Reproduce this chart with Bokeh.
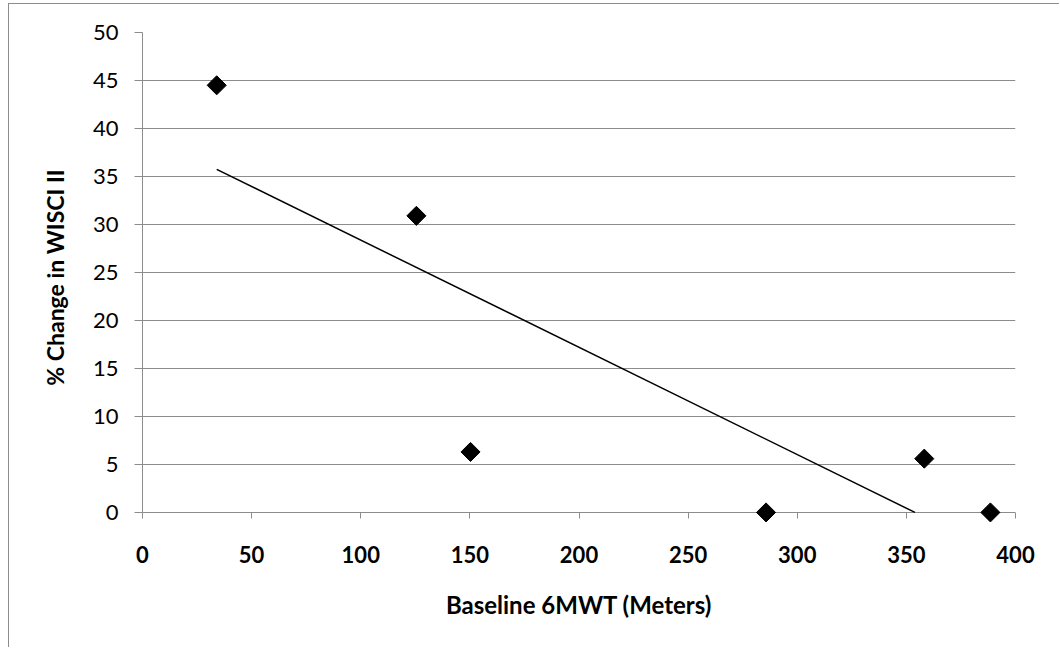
import numpy as np
from bokeh.plotting import figure
from bokeh.models import Range1d, FixedTicker, ColumnDataSource
from bokeh.embed import file_html
from bokeh.resources import INLINE

baseline_6mwt = [34, 125.5, 150.3, 285.7, 358.2, 388.5]
pct_change_wisci = [44.5, 30.9, 6.3, 0.0, 5.6, 0.0]
x_ticks = [0, 50, 100, 150, 200, 250, 300, 350, 400]
y_ticks = [0, 5, 10, 15, 20, 25, 30, 35, 40, 45, 50]

# linear trendline (least squares) over the data range, stopped at the 0 floor
slope, intercept = np.polyfit(baseline_6mwt, pct_change_wisci, 1)
tx = np.array([min(baseline_6mwt), max(baseline_6mwt)], dtype=float)
ty = slope * tx + intercept
if ty[-1] < 0:
    tx[-1] = -intercept / slope
    ty[-1] = 0.0

W, H = 1051, 644
Y_PAD = 1.05  # room below 0 so markers sitting on 0 are not clipped
PAD_PX = 10
p = figure(width=W, height=H, output_backend="svg", toolbar_location=None,
           x_range=Range1d(0, 400), y_range=Range1d(-Y_PAD, 50),
           min_border_left=133, min_border_right=45,
           min_border_top=28, min_border_bottom=126)
p.styles = {"margin-left": "8px", "margin-top": "3px",
            "border-left": "1px solid #8c8c8c", "border-top": "1px solid #8c8c8c"}
p.outline_line_color = None
p.background_fill_color = "white"
p.border_fill_color = "white"

FONT = "Lato"
GRID = "#8c8c8c"

p.xgrid.grid_line_color = None
p.ygrid.grid_line_color = GRID
p.ygrid.grid_line_width = 1
p.ygrid.ticker = FixedTicker(ticks=y_ticks)

xa = p.xaxis[0]
xa.ticker = FixedTicker(ticks=x_ticks)
xa.axis_line_color = None
xa.major_tick_line_color = GRID
xa.major_tick_in = PAD_PX
xa.major_tick_out = 6 - PAD_PX
xa.minor_tick_line_color = None
xa.major_label_text_font = FONT
xa.major_label_text_font_style = "bold"
xa.major_label_text_font_size = "22px"
xa.major_label_text_color = "black"
xa.major_label_standoff = 23
xa.axis_label = "Baseline 6MWT (Meters)"
xa.axis_label_text_font = FONT
xa.axis_label_text_font_style = "bold"
xa.axis_label_text_font_size = "24px"
xa.axis_label_text_color = "black"
xa.axis_label_standoff = 24

ya = p.yaxis[0]
ya.bounds = (0, 50)
ya.ticker = FixedTicker(ticks=y_ticks)
ya.axis_line_color = GRID
ya.major_tick_line_color = GRID
ya.major_tick_in = 0
ya.major_tick_out = 8
ya.minor_tick_line_color = None
ya.major_label_text_font = FONT
ya.major_label_text_font_style = "normal"
ya.major_label_text_font_size = "22px"
ya.major_label_text_color = "black"
ya.major_label_standoff = 16
ya.axis_label = "% Change in WISCI II"
ya.axis_label_text_font = FONT
ya.axis_label_text_font_style = "bold"
ya.axis_label_text_font_size = "23px"
ya.axis_label_text_color = "black"
ya.axis_label_standoff = 21

p.line(x=tx, y=ty, line_color="black", line_width=1.5)

src = ColumnDataSource(dict(x=baseline_6mwt, y=pct_change_wisci))
p.scatter(x="x", y="y", source=src, marker="square", size=13.5, angle=np.pi / 4,
          fill_color="black", line_color="black")

open("out.html", "w").write(file_html(p, INLINE))
